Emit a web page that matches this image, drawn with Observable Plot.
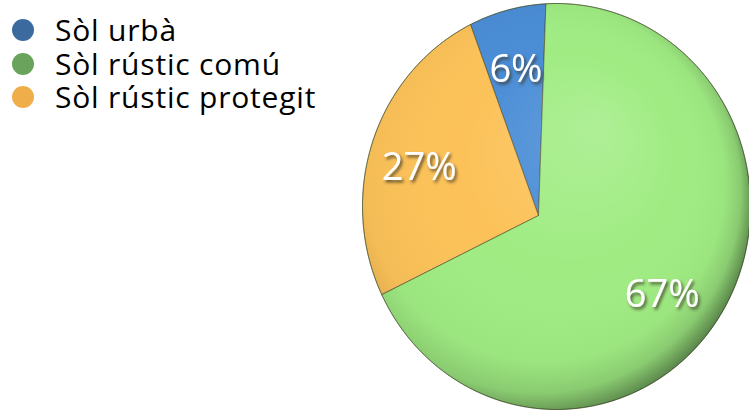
<!DOCTYPE html>
<html><head><meta charset="utf-8">
<script src="https://cdn.jsdelivr.net/npm/d3@7"></script>
<script src="https://cdn.jsdelivr.net/npm/@observablehq/plot@0.6"></script>
<style>
body{margin:0;background:#fff}
#wrap{position:relative;width:749px;height:410px;overflow:hidden}
#legend{position:absolute;left:0;top:0;font-family:"Open Sans",sans-serif;font-size:30px;letter-spacing:0.8px;color:#000}
.row{position:absolute;left:12px;height:30px;display:flex;align-items:center;white-space:nowrap}
.dot{display:block;width:22px;height:22px;border-radius:50%;margin-right:21px;flex:none}
.txt{display:block;height:30px;line-height:30px;overflow:visible}
</style>
</head><body>
<div id="wrap"><div id="legend"></div></div>
<script>
const categories = ["Sòl urbà", "Sòl rústic comú", "Sòl rústic protegit"];
const values = [6, 67, 27];
const labels = ["6%", "67%", "27%"];
const legendColors = ["#3b6b9e", "#6aa35b", "#f0ae4b"];
const sliceColors = ["#4a8dd6", "#a0ec83", "#fcc259"];
const ccwOrder = [0, 2, 1]; // counter-clockwise from the top

// geometry (style)
const rx = 194 / 203;
const apex = [-0.0887, -0.0443];
const startDeg = 2;
const labelFrac = 0.71;

function rayHit(deg) {
  const t = deg * Math.PI / 180, dx = Math.sin(t), dy = Math.cos(t);
  const A = dx * dx / (rx * rx) + dy * dy;
  const B = 2 * (apex[0] * dx / (rx * rx) + apex[1] * dy);
  const C = apex[0] ** 2 / (rx * rx) + apex[1] ** 2 - 1;
  const s = (-B + Math.sqrt(B * B - 4 * A * C)) / (2 * A);
  return {s, x: apex[0] + s * dx, y: apex[1] + s * dy, dx, dy};
}

const total = d3.sum(values);
const sliceRows = [], labelRows = [];
let cursor = startDeg;
for (const i of ccwOrder) {
  const span = values[i] / total * 360;
  const to = cursor, from = cursor - span;
  cursor = from;
  const cat = categories[i];
  sliceRows.push({cat, x: apex[0], y: apex[1]});
  const n = Math.max(2, Math.ceil(span / 0.5));
  for (let k = 0; k <= n; k++) {
    const h = rayHit(to - (to - from) * k / n);
    sliceRows.push({cat, x: h.x, y: h.y});
  }
  sliceRows.push({cat, x: apex[0], y: apex[1]});
  const m = rayHit((from + to) / 2);
  labelRows.push({cat, label: labels[i], x: apex[0] + m.dx * m.s * labelFrac, y: apex[1] + m.dy * m.s * labelFrac});
}
const ellipsePts = d3.range(0, 361, 1).map(d => ({x: rx * Math.sin(d * Math.PI / 180), y: Math.cos(d * Math.PI / 180)}));

const chart = Plot.plot({
  width: 749, height: 410, margin: 0,
  x: {domain: [-rx, rx], range: [362, 750], axis: null},
  y: {domain: [-1, 1], range: [409, 3], axis: null},
  color: {domain: categories, range: sliceColors},
  style: {background: "transparent", overflow: "visible"},
  marks: [
    Plot.line(sliceRows, {x: "x", y: "y", z: "cat", fill: "cat", stroke: "#4a4526", strokeWidth: 0.8, strokeOpacity: 0.75, strokeLinejoin: "round"}),
    Plot.line(ellipsePts, {x: "x", y: "y", fill: "url(#shade)", stroke: "#2e4a22", strokeWidth: 0.8, strokeOpacity: 0.5}),
    Plot.text(labelRows, {x: "x", y: "y", text: "label", fill: "white", fontSize: 38, fontFamily: "Open Sans", fontWeight: 500})
  ]
});

const svg = d3.select(chart);
const defs = svg.insert("defs", ":first-child");
const g = defs.append("radialGradient").attr("id", "shade").attr("gradientUnits", "userSpaceOnUse")
  .attr("cx", 527).attr("cy", 200).attr("r", 236).attr("fx", 600).attr("fy", 125);
[[0, "#ffffff", 0.16], [0.45, "#ffffff", 0.0], [0.76, "#000000", 0.03], [0.86, "#000000", 0.14], [0.93, "#000000", 0.38], [1, "#000000", 0.62]]
  .forEach(([o, c, a]) => g.append("stop").attr("offset", o).attr("stop-color", c).attr("stop-opacity", a));
const f = defs.append("filter").attr("id", "tshadow").attr("x", "-20%").attr("y", "-20%").attr("width", "140%").attr("height", "140%");
f.append("feDropShadow").attr("dx", 2).attr("dy", 2.5).attr("stdDeviation", 1.6).attr("flood-color", "#3a3020").attr("flood-opacity", 0.75);
svg.selectAll('g[aria-label="text"] text').attr("filter", "url(#tshadow)");

document.getElementById("wrap").appendChild(chart);
chart.style.position = "absolute"; chart.style.left = "0"; chart.style.top = "0";

const legend = d3.select("#legend");
const centers = [30, 63.5, 97];
categories.forEach((c, i) => {
  const row = legend.append("div").attr("class", "row").style("top", (centers[i] - 15) + "px");
  row.append("span").attr("class", "dot").style("background", legendColors[i]);
  row.append("span").attr("class", "txt").text(c);
});
document.getElementById("wrap").appendChild(document.getElementById("legend"));
</script>
</body></html>
